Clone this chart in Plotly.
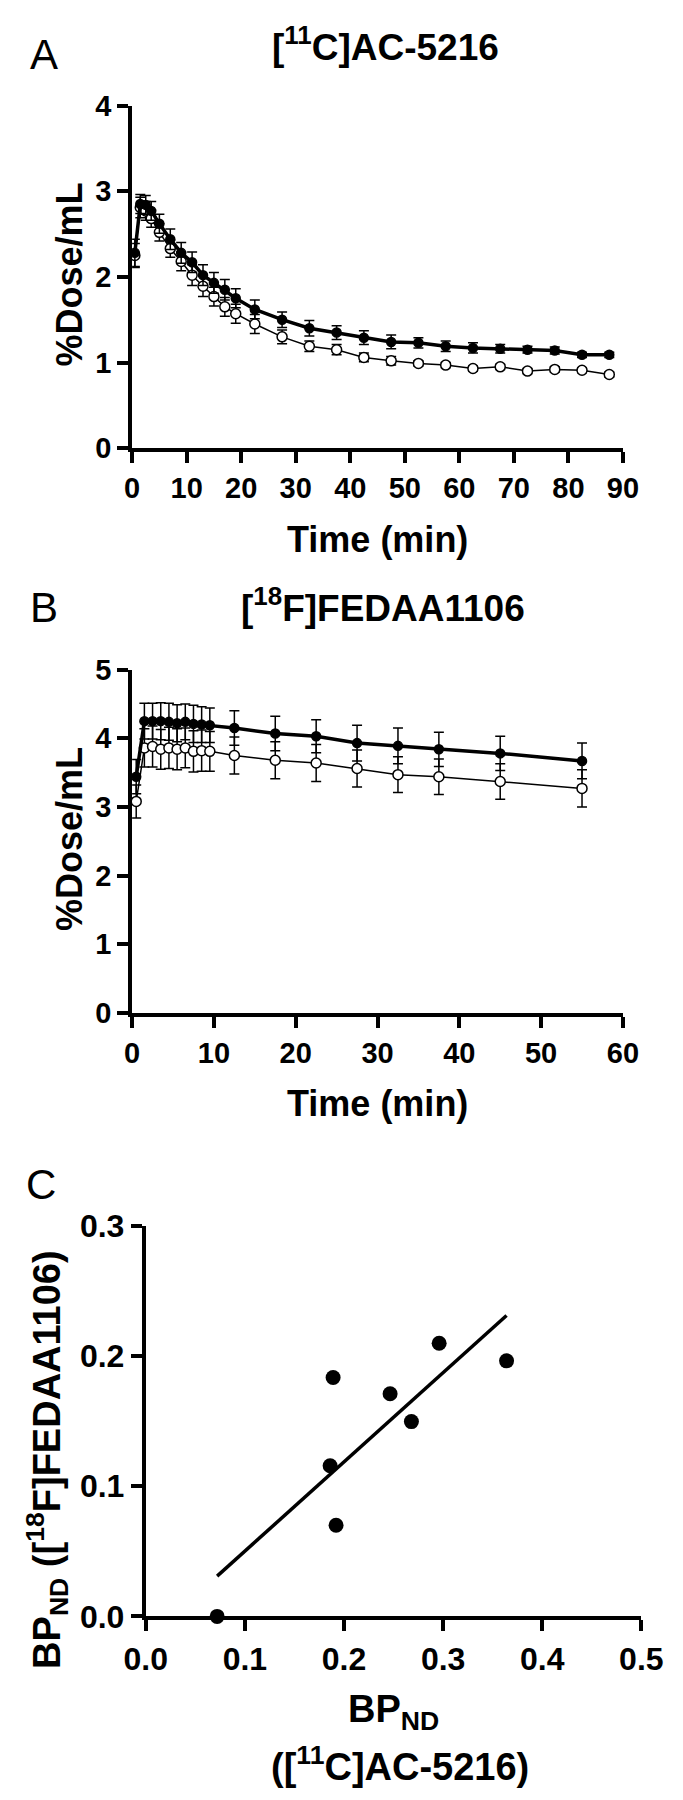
import numpy as np
import plotly.graph_objects as go

# -----------------------------
# Data
# -----------------------------

# panel A: [11C]AC-5216
time_a = [0.5, 1.5, 2.5, 3.5, 5, 7, 9, 11, 13, 15, 17, 19, 22.5, 27.5, 32.5,
          37.5, 42.5, 47.5, 52.5, 57.5, 62.5, 67.5, 72.5, 77.5, 82.5, 87.5]
filled_a = [2.28, 2.85, 2.84, 2.77, 2.62, 2.44, 2.28, 2.17, 2.02, 1.93, 1.85, 1.75, 1.62,
            1.50, 1.40, 1.35, 1.29, 1.24, 1.23, 1.19, 1.17, 1.16, 1.15, 1.14, 1.09, 1.09]
filled_a_sd = [0.16, 0.11, 0.11, 0.11, 0.11, 0.12, 0.12, 0.12, 0.12, 0.12, 0.12, 0.11, 0.11,
               0.09, 0.09, 0.08, 0.08, 0.08, 0.06, 0.06, 0.06, 0.05, 0.04, 0.04, 0.03, 0.03]
open_a = [2.25, 2.81, 2.77, 2.68, 2.52, 2.33, 2.18, 2.02, 1.89, 1.77, 1.65, 1.57, 1.45,
          1.30, 1.19, 1.15, 1.06, 1.02, 0.99, 0.97, 0.93, 0.95, 0.90, 0.92, 0.91, 0.86]
open_a_sd = [0.14, 0.12, 0.11, 0.10, 0.10, 0.10, 0.11, 0.12, 0.12, 0.11, 0.11, 0.11, 0.11,
             0.08, 0.06, 0.06, 0.05, 0.05, 0.03, 0.03, 0.03, 0.03, 0.03, 0.03, 0.03, 0.03]

# panel B: [18F]FEDAA1106
time_b = [0.5, 1.5, 2.5, 3.5, 4.5, 5.5, 6.5, 7.5, 8.5, 9.5, 12.5, 17.5, 22.5, 27.5, 32.5, 37.5, 45, 55]
filled_b = [3.44, 4.25, 4.25, 4.25, 4.24, 4.22, 4.24, 4.21, 4.20, 4.19, 4.15, 4.07, 4.03,
            3.93, 3.89, 3.84, 3.78, 3.67]
filled_b_sd = [0.25, 0.26, 0.26, 0.27, 0.27, 0.27, 0.26, 0.27, 0.26, 0.25, 0.25, 0.25, 0.24,
               0.26, 0.26, 0.25, 0.25, 0.26]
open_b = [3.08, 3.86, 3.88, 3.84, 3.86, 3.84, 3.86, 3.81, 3.82, 3.81, 3.75, 3.68, 3.64,
          3.56, 3.47, 3.44, 3.37, 3.27]
open_b_sd = [0.24, 0.28, 0.30, 0.29, 0.30, 0.30, 0.29, 0.30, 0.30, 0.29, 0.27, 0.27, 0.27,
             0.27, 0.26, 0.26, 0.26, 0.27]

# panel C: BPND correlation
bp_ac5216 = [0.072, 0.189, 0.186, 0.192, 0.2465, 0.268, 0.296, 0.364]
bp_fedaa = [0.0, 0.1836, 0.1158, 0.070, 0.1711, 0.1497, 0.2099, 0.1964]

# -----------------------------
# Layout helpers
# -----------------------------

W, H = 683, 1800
FONT = "Liberation Sans, Arial, sans-serif"


def px(x):
    return x / W


def py(y):
    return 1 - y / H


def axis_style(size=29, **kw):
    d = dict(
        showline=True,
        linecolor="black",
        linewidth=4,
        ticks="outside",
        ticklen=11,
        tickwidth=4,
        tickcolor="black",
        showgrid=False,
        zeroline=False,
        tickfont=dict(family=FONT, size=size, color="black", weight="bold"),
        fixedrange=True,
    )
    d.update(kw)
    return d


def text(x, y, s, size=36, bold=True, angle=0):
    return dict(
        x=px(x), y=py(y), xref="paper", yref="paper",
        text=s, showarrow=False, textangle=angle,
        xanchor="center", yanchor="middle",
        font=dict(family=FONT, size=size, color="black",
                  weight="bold" if bold else "normal"),
    )


def series(t, v, sd, filled, xa, ya, width):
    return go.Scatter(
        x=t, y=v,
        mode="lines+markers",
        xaxis=xa, yaxis=ya,
        line=dict(color="black", width=width),
        marker=dict(
            symbol="circle",
            size=9 if filled else 10,
            color="black" if filled else "white",
            line=dict(color="black", width=1.5),
        ),
        error_y=dict(type="data", array=sd, thickness=1.5, width=5, color="black"),
        cliponaxis=False,
        showlegend=False,
    )


fig = go.Figure()

# Panel A
fig.add_trace(series(time_a, open_a, open_a_sd, False, "x", "y", 1.5))
fig.add_trace(series(time_a, filled_a, filled_a_sd, True, "x", "y", 3.5))

# Panel B
fig.add_trace(series(time_b, open_b, open_b_sd, False, "x2", "y2", 1.5))
fig.add_trace(series(time_b, filled_b, filled_b_sd, True, "x2", "y2", 3.5))

# Panel C
slope, intercept = np.polyfit(bp_ac5216, bp_fedaa, 1)
fit_x = [min(bp_ac5216), max(bp_ac5216)]
fit_y = [slope * v + intercept for v in fit_x]

fig.add_trace(go.Scatter(
    x=fit_x, y=fit_y, mode="lines", xaxis="x3", yaxis="y3",
    line=dict(color="black", width=3.5), showlegend=False,
))
fig.add_trace(go.Scatter(
    x=bp_ac5216, y=bp_fedaa, mode="markers", xaxis="x3", yaxis="y3",
    marker=dict(color="black", size=15), cliponaxis=False, showlegend=False,
))

ab_x = [px(117.7), px(642.3)]
c_x = [px(132.3), px(662)]

fig.update_layout(
    width=W, height=H,
    autosize=False,
    margin=dict(l=0, r=0, t=0, b=0),
    paper_bgcolor="white",
    plot_bgcolor="white",
    hovermode=False,
    xaxis=axis_style(domain=ab_x, range=[0, 90], tickvals=list(range(0, 100, 10)), anchor="y"),
    yaxis=axis_style(domain=[py(439), py(89.3)], range=[0, 4], tickvals=[0, 1, 2, 3, 4], anchor="x"),
    xaxis2=axis_style(domain=ab_x, range=[0, 60], tickvals=list(range(0, 70, 10)), anchor="y2"),
    yaxis2=axis_style(domain=[py(1015), py(665)], range=[0, 5], tickvals=[0, 1, 2, 3, 4, 5], anchor="x2"),
    xaxis3=axis_style(size=32, domain=c_x, range=[0, 0.5], tickvals=[0, 0.1, 0.2, 0.3, 0.4, 0.5],
                      tickformat=".1f", anchor="y3"),
    yaxis3=axis_style(size=32, domain=[py(1631), py(1232.7)], range=[0, 0.3], tickvals=[0, 0.1, 0.2, 0.3],
                      tickformat=".1f", anchor="x3"),
    annotations=[
        # panel A
        text(23, 37, "A", size=42, bold=False),
        text(389, 27, "[<sup>11</sup>C]AC-5216", size=37),
        text(51, 262, "%Dose/mL", angle=-90),
        text(380, 532, "Time (min)"),
        # panel B
        text(23, 602, "B", size=42, bold=False),
        text(386, 599, "[<sup>18</sup>F]FEDAA1106", size=37),
        text(51, 838, "%Dose/mL", angle=-90),
        text(380, 1108, "Time (min)"),
        # panel C
        text(20, 1190, "C", size=42, bold=False),
        text(26, 1471, "BP<sub>ND</sub> ([<sup>18</sup>F]FEDAA1106)", size=38, angle=-90),
        text(397, 1729, "BP<sub>ND</sub>", size=38),
        text(404, 1782, "([<sup>11</sup>C]AC-5216)", size=38),
    ],
)

# drop the default page margin so the figure sits at the window origin
fig.write_html(
    "out.html",
    config={"displayModeBar": False, "staticPlot": True},
    post_script="document.body.style.margin = '0px';",
)
